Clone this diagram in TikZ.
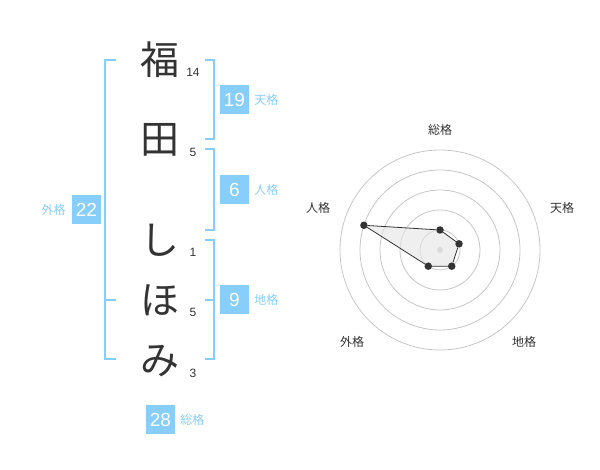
\documentclass[tikz,border=0pt]{standalone}
\usepackage{fontspec}
\setmainfont{Liberation Sans}
\newfontfamily\jpfont{Noto Sans CJK JP}
\usetikzlibrary{positioning, calc}
\definecolor{kakublue}{RGB}{135,206,250}
\definecolor{ink}{RGB}{51,51,51}

\begin{document}
\begin{tikzpicture}[x=1pt, y=-1pt]

\tikzstyle{char}=[font=\jpfont\fontsize{39}{39}\selectfont, text=ink, inner sep=0]
\tikzstyle{strokes}=[font=\fontsize{12}{12}\selectfont, text=ink, inner sep=0]
\tikzstyle{score}=[fill=kakublue, text=white, minimum size=29pt, inner sep=0, font=\fontsize{19}{19}\selectfont]
\tikzstyle{kaku}=[text=kakublue, font=\jpfont\fontsize{12}{12}\selectfont, inner sep=0]
\tikzstyle{bracket}=[draw=kakublue, line width=2pt]
\tikzstyle{ring}=[draw=black!22, line width=0.8pt]
\tikzstyle{dot}=[circle, fill=ink, minimum size=7.5pt, inner sep=0]
\tikzstyle{axis}=[text=ink, font=\jpfont\fontsize{12}{12}\selectfont, inner sep=0]

\useasboundingbox (0,0) rectangle (600,470);

% name
\foreach \c/\y/\n [count=\i] in {福/60/14, 田/140/5, し/240/1, ほ/300/5, み/361/3}
{
	\node [char] (char-\i) at (160, \y) {\c};
	\node [strokes] (strokes-\i) at ($(char-\i) + (33, 12)$) {\n};
}

% brackets
\draw [bracket] (116, 60) -- (105, 60) -- (105, 359) -- (116, 359);
\draw [bracket] (105, 300) -- (116, 300);
\draw [bracket] (205, 60) -- (214, 60) -- (214, 139) -- (205, 139);
\draw [bracket] (205, 149) -- (214, 149) -- (214, 230) -- (205, 230);
\draw [bracket] (205, 240) -- (214, 240) -- (214, 359) -- (205, 359);
\draw [bracket] (205, 300) -- (214, 300);

% scores
\node [score] (ten) at (234.5, 100) {19};
\node [kaku, right=5pt of ten] (ten-label) {天格};
\node [score] (jin) at (234.5, 190) {6};
\node [kaku, right=5pt of jin] (jin-label) {人格};
\node [score] (chi) at (234.5, 300) {9};
\node [kaku, right=5pt of chi] (chi-label) {地格};
\node [score] (gai) at (86.5, 210) {22};
\node [kaku, left=6pt of gai] (gai-label) {外格};
\node [score] (sou) at (160.5, 419.5) {28};
\node [kaku, right=5pt of sou] (sou-label) {総格};

% radar
\node [circle, fill=black!20, minimum size=6pt, inner sep=0] (radar-c) at (440, 250) {};
\foreach \r in {20,40,...,100}
	\draw [ring] (radar-c.center) circle (\r);

\node [axis] (ax-sou) at ($(radar-c) + (0, -120)$) {総格};
\node [axis] (ax-ten) at ($(radar-c) + (122, -42)$) {天格};
\node [axis] (ax-chi) at ($(radar-c) + (84, 92)$) {地格};
\node [axis] (ax-gai) at ($(radar-c) + (-88, 92)$) {外格};
\node [axis] (ax-jin) at ($(radar-c) + (-122, -42)$) {人格};

\foreach \a/\r [count=\i] in {-90/20, -18/20, 54/20, 126/20, 198/80}
	\coordinate (val-\i) at ($(radar-c) + (\a:\r)$);

\fill [black!10, fill opacity=0.6] (val-1) -- (val-2) -- (val-3) -- (val-4) -- (val-5) -- cycle;

\foreach \i in {1,...,5}
	\node [dot] (pt-\i) at (val-\i) {};

\draw [ink, line width=0.8pt] (pt-1) -- (pt-2) -- (pt-3) -- (pt-4) -- (pt-5) -- (pt-1);

\end{tikzpicture}
\end{document}
